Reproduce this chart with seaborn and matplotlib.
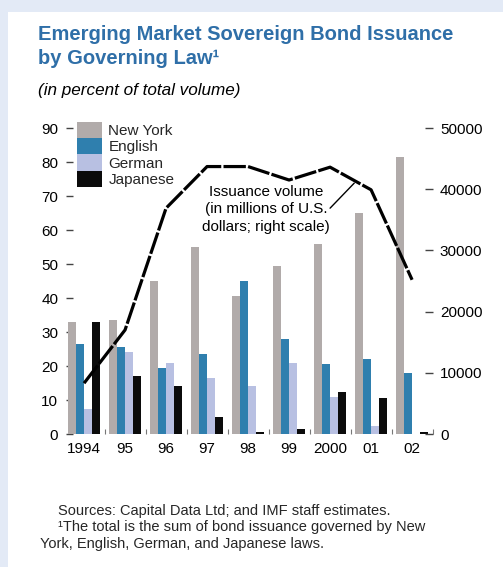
import numpy as np
import pandas as pd
import matplotlib
matplotlib.use("Agg")
import matplotlib.pyplot as plt
import seaborn as sns
from matplotlib.patches import Rectangle
from matplotlib.ticker import FixedLocator

# ---------------- data ----------------
years = ["1994", "95", "96", "97", "98", "99", "2000", "01", "02"]
laws = ["New York", "English", "German", "Japanese"]
new_york = [33.0, 33.5, 45.0, 55.0, 40.5, 49.5, 56.0, 65.0, 81.5]
english = [26.5, 25.5, 19.5, 23.5, 45.0, 28.0, 20.5, 22.0, 18.0]
german = [7.5, 24.0, 21.0, 16.5, 14.0, 21.0, 11.0, 2.5, 0.0]
japanese = [33.0, 17.0, 14.0, 5.0, 0.5, 1.5, 12.5, 10.5, 0.5]
volume = [8300, 17000, 36900, 43700, 43700, 41500, 43600, 39900, 25200]
left_ticks = [0, 10, 20, 30, 40, 50, 60, 70, 80, 90]
right_ticks = [0, 10000, 20000, 30000, 40000, 50000]

colors = {"New York": "#b1abaa", "English": "#2f7fae",
          "German": "#b8c0e2", "Japanese": "#0b0b0b"}

df = pd.DataFrame({"year": years, "New York": new_york, "English": english,
                   "German": german, "Japanese": japanese})
long = df.melt(id_vars="year", var_name="law", value_name="share")

sns.set_theme(style="white")
plt.rcParams["font.family"] = ["Liberation Sans", "DejaVu Sans"]

W, H = 503, 567
fig = plt.figure(figsize=(W / 100, H / 100), dpi=100, facecolor="#e3eaf6")
fig.add_artist(Rectangle((8 / W, 0), 1 - 8 / W, (H - 12) / H,
                         transform=fig.transFigure, facecolor="white",
                         edgecolor="none", zorder=-10))

L, R, B, T = 66, 433, 434, 120
ax = fig.add_axes([L / W, 1 - B / H, (R - L) / W, (B - T) / H])
ax.patch.set_alpha(0)

sns.barplot(data=long, x="year", y="share", hue="law", order=years,
            hue_order=laws, palette=colors, width=0.8, gap=0, saturation=1,
            linewidth=0, edgecolor="none", ax=ax, legend=True)

ymax_left = 90 * (B - T) / (B - 128)
ymax_right = 50000 * (B - T) / (B - 128)

ax2 = ax.twinx()
sns.lineplot(x=np.arange(len(years)), y=volume, ax=ax2, color="black",
             linewidth=2.3, linestyle=(0, (7, 0.7)))
ax2.set_ylim(0, ymax_right)
ax.set_ylim(0, ymax_left)
ax.set_xlim(-0.44, 8.51)

for a in (ax, ax2):
    for s in a.spines.values():
        s.set_visible(False)
    a.set_xlabel("")
    a.set_ylabel("")
    a.grid(False)

ax.set_yticks(left_ticks)
ax.tick_params(axis="y", direction="in", length=5, width=1, color="#444444",
               pad=5.5, labelsize=11, labelcolor="black", left=True)
ax.set_axisbelow(True)
ax.tick_params(axis="x", which="major", length=0, pad=5.5, labelsize=11,
               labelcolor="black")
ax.xaxis.set_minor_locator(FixedLocator(np.arange(0.5, 8.6, 1.0)))
ax.tick_params(axis="x", which="minor", direction="in", length=3.5,
               width=0.8, color="#777777", bottom=True)

ax2.set_yticks(right_ticks)
ax2.set_yticklabels([str(v) for v in right_ticks])
ax2.tick_params(axis="y", direction="in", length=5.5, width=1,
                color="#444444", pad=5, labelsize=11, labelcolor="black",
                right=True)

# legend
handles, labels = ax.get_legend_handles_labels()
if ax.get_legend() is not None:
    ax.get_legend().remove()
ax.legend(handles, labels, loc="upper left",
          bbox_to_anchor=((77 - L) / (R - L), (B - 122) / (B - T)),
          frameon=False, fontsize=11, handlelength=1.65, handleheight=1.25,
          labelspacing=0.0, handletextpad=0.4, borderpad=0, borderaxespad=0)

# annotation for the line
ax2.text(4.44, 40700, "Issuance volume\n(in millions of U.S.\ndollars; right scale)",
         ha="center", va="top", fontsize=11, linespacing=1.3, color="black")
ax2.annotate("", xy=(6.59, 41000), xytext=(6.0, 36900),
             arrowprops=dict(arrowstyle="-", lw=1, color="black",
                             shrinkA=0, shrinkB=0))

# titles
fig.text(38 / W, 1 - 39.5 / H, "Emerging Market Sovereign Bond Issuance",
         fontsize=14.5, weight="bold", color="#2f6fa8", va="baseline")
fig.text(38 / W, 1 - 64 / H, "by Governing Law\u00b9",
         fontsize=14.5, weight="bold", color="#2f6fa8", va="baseline")
fig.text(38 / W, 1 - 95 / H, "(in percent of total volume)",
         fontsize=12.3, style="italic", color="black", va="baseline")

# footnotes
fig.text(58 / W, 1 - 515.5 / H, "Sources: Capital Data Ltd; and IMF staff estimates.",
         fontsize=10.5, va="baseline")
fig.text(58 / W, 1 - 531.5 / H, "\u00b9The total is the sum of bond issuance governed by New",
         fontsize=10.5, va="baseline")
fig.text(40 / W, 1 - 548 / H, "York, English, German, and Japanese laws.",
         fontsize=10.5, va="baseline")

fig.savefig("out.png", dpi=100, facecolor=fig.get_facecolor())
